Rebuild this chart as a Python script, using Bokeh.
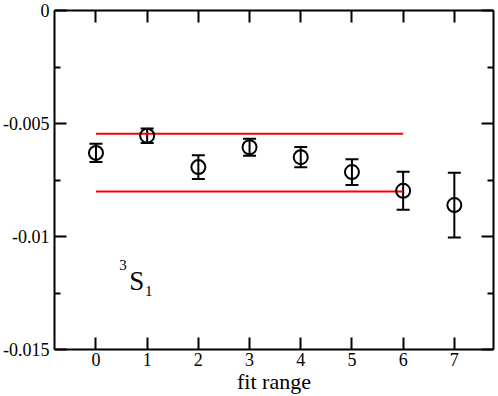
from bokeh.plotting import figure
from bokeh.models import (ColumnDataSource, Whisker, TeeHead, FixedTicker, LinearAxis, Range1d)
from bokeh.core.properties import value
from bokeh.embed import file_html
from bokeh.resources import INLINE

# ---- data ----
fit_range = [0, 1, 2, 3, 4, 5, 6, 7]
energy = [-0.00630, -0.00554, -0.00693, -0.00605, -0.00649, -0.00715, -0.00798, -0.00861]
error = [0.00040, 0.00032, 0.00053, 0.00038, 0.00045, 0.00057, 0.00084, 0.00143]

band_x = [0, 6]
band_upper = -0.00545
band_lower = -0.00801

x_ticks = [0, 1, 2, 3, 4, 5, 6, 7]
y_ticks = [-0.015, -0.01, -0.005, 0.0]
y_tick_labels = ["-0.015", "-0.01", "-0.005", "0"]
y_minor_ticks = [-0.0125, -0.0075, -0.0025]

# state label pieces: (text, x, y)
label_parts = [("3", 0.453, -0.01127), ("S", 0.648, -0.01197), ("1", 0.959, -0.01241)]
label_sizes = ["15px", "27px", "15px"]

SERIF = "Liberation Serif"

p = figure(width=498, height=396, output_backend="svg", toolbar_location=None,
           x_range=Range1d(-0.81, 7.765), y_range=Range1d(-0.015, 0.0),
           min_border_left=52, min_border_right=5, min_border_top=10, min_border_bottom=47,
           x_axis_location=None, y_axis_location=None)
p.outline_line_color = None
p.grid.visible = False
p.background_fill_color = "white"
p.border_fill_color = "white"

def style_axis(ax, ticks, minor, labels=None, show=True):
    ax.ticker = FixedTicker(ticks=ticks, minor_ticks=minor)
    ax.axis_line_color = "black"
    ax.axis_line_width = 2
    ax.major_tick_line_color = "black"
    ax.major_tick_line_width = 2
    ax.minor_tick_line_color = "black"
    ax.minor_tick_line_width = 2
    ax.major_tick_in = 12
    ax.major_tick_out = 0
    ax.minor_tick_in = 6
    ax.minor_tick_out = 0
    ax.major_label_text_font = SERIF
    ax.major_label_text_font_size = "18px"
    ax.major_label_text_color = "black"
    if labels is not None:
        ax.major_label_overrides = labels
    if not show:
        ax.major_label_overrides = {t: "" for t in ticks}
        ax.major_label_text_font_size = "0px"
        ax.major_label_standoff = 0

xb = LinearAxis(axis_label="fit range")
style_axis(xb, x_ticks, [])
xb.major_label_standoff = 3
xb.axis_label_text_font = SERIF
xb.axis_label_text_font_size = "22px"
xb.axis_label_text_font_style = "normal"
xb.axis_label_text_color = "black"
xb.axis_label_standoff = 0
p.add_layout(xb, "below")

xt = LinearAxis()
style_axis(xt, x_ticks, [], show=False)
p.add_layout(xt, "above")

yl = LinearAxis()
style_axis(yl, y_ticks, y_minor_ticks, labels=dict(zip(y_ticks, y_tick_labels)))
yl.major_label_standoff = 5
p.add_layout(yl, "left")

yr = LinearAxis()
style_axis(yr, y_ticks, y_minor_ticks, show=False)
p.add_layout(yr, "right")

# red band lines
p.line(band_x, [band_upper] * 2, line_color="red", line_width=2)
p.line(band_x, [band_lower] * 2, line_color="red", line_width=2)

src = ColumnDataSource(dict(
    x=fit_range, y=energy,
    lo=[e - d for e, d in zip(energy, error)],
    hi=[e + d for e, d in zip(energy, error)],
))
w = Whisker(source=src, base="x", lower="lo", upper="hi", dimension="height",
            line_color="black", line_width=2,
            upper_head=TeeHead(size=13, line_width=2, line_color="black"),
            lower_head=TeeHead(size=13, line_width=2, line_color="black"))
p.add_layout(w)
p.scatter("x", "y", source=src, marker="circle", size=14, fill_color=None,
          line_color="black", line_width=2)

for (t, lx, ly), fs in zip(label_parts, label_sizes):
    p.text(x=[lx], y=[ly], text=[t], text_font=value(SERIF), text_font_size=fs,
           text_baseline="alphabetic", text_align="left", text_color="black")

open("out.html", "w").write(file_html(p, INLINE))
